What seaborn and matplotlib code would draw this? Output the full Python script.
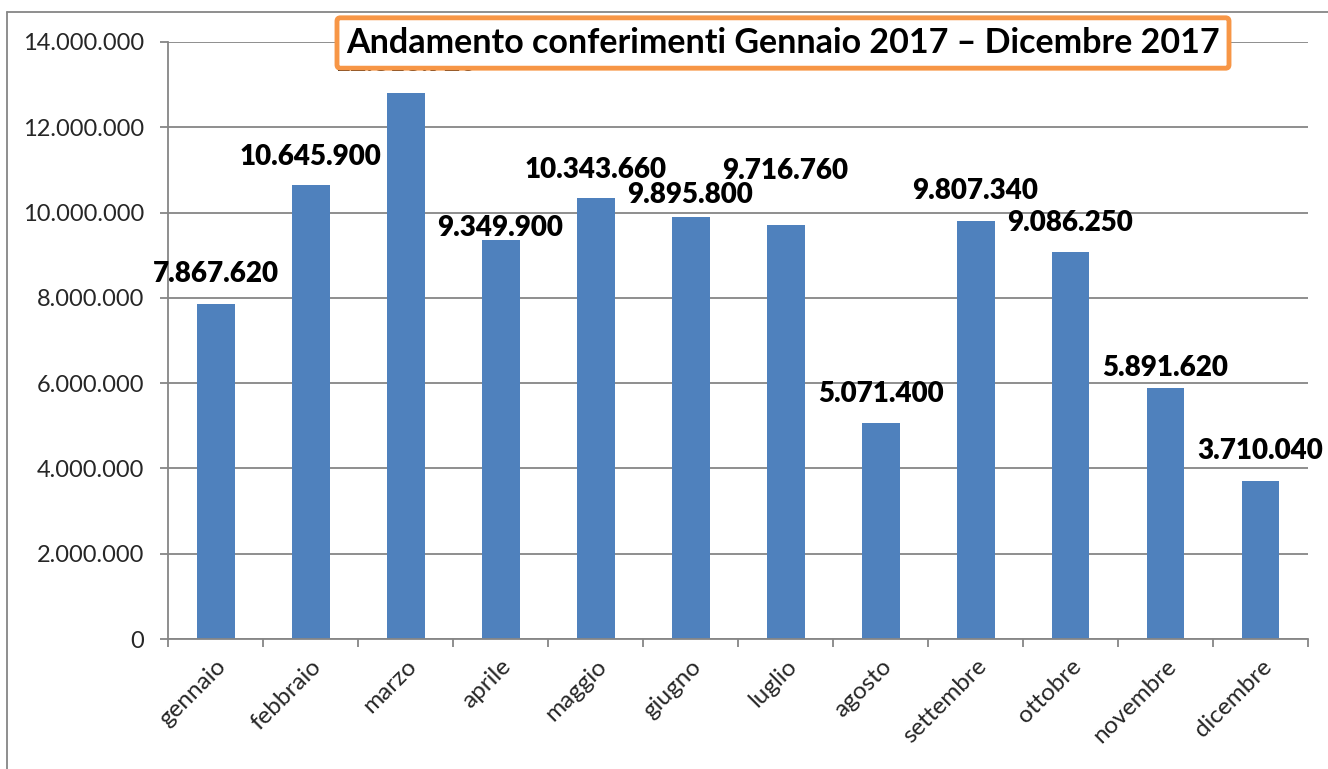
"""Andamento conferimenti 2017 - bar chart with seaborn."""

import matplotlib.pyplot as plt
import pandas as pd
import seaborn as sns
from matplotlib.lines import Line2D
from matplotlib.ticker import FixedLocator, FuncFormatter, MultipleLocator

sns.set_theme(style="white")
plt.rcParams["font.family"] = ["Lato", "DejaVu Sans"]

# Data
mesi = ["gennaio", "febbraio", "marzo", "aprile", "maggio", "giugno",
        "luglio", "agosto", "settembre", "ottobre", "novembre", "dicembre"]
conferimenti = [7867620, 10645900, 12813920, 9349900, 10343660, 9895800,
                9716760, 5071400, 9807340, 9086250, 5891620, 3710040]
# vertical distance (px) of each data label above its bar
label_offsets_px = [30, 28, 30, 12, 28, 22, 54, 29, 30, 29, 20, 30]

titolo = "Andamento conferimenti Gennaio 2017 \u2013 Dicembre 2017"
GRAY = "#868686"
BLUE = "#4F81BD"
ORANGE = "#F79646"


def fmt_it(v):
    return f"{int(round(v)):,}".replace(",", ".")


df = pd.DataFrame({"mese": mesi, "valore": conferimenti})

fig = plt.figure(figsize=(13.28, 7.69), dpi=100)
ax = fig.add_axes([168 / 1328, 1 - 639 / 769, (1308 - 168) / 1328, (639 - 42) / 769])

sns.barplot(data=df, x="mese", y="valore", color=BLUE, width=0.4,
            saturation=1, ax=ax, edgecolor="none")

ax.set_ylim(0, 14_000_000)
ax.set_xlim(-0.5, len(mesi) - 0.5)
ax.yaxis.set_major_locator(MultipleLocator(2_000_000))
ax.yaxis.set_major_formatter(FuncFormatter(lambda v, p: fmt_it(v)))
ax.grid(axis="y", color=GRAY, linewidth=1.3)
ax.set_axisbelow(True)

for s in ["top", "right"]:
    ax.spines[s].set_visible(False)
for s in ["left", "bottom"]:
    ax.spines[s].set_color(GRAY)
    ax.spines[s].set_linewidth(1.3)

ax.set_xlabel("")
ax.set_ylabel("")
ax.tick_params(axis="y", which="major", left=True, length=6, width=1.3,
               color=GRAY, labelsize=17, pad=11)
ax.tick_params(axis="x", which="major", length=0, labelsize=17.5, pad=12)
ax.xaxis.set_minor_locator(FixedLocator([i - 0.5 for i in range(len(mesi) + 1)]))
ax.tick_params(axis="x", which="minor", bottom=True, length=6, width=1.3, color=GRAY)
for lbl in ax.get_xticklabels():
    lbl.set_rotation(45)
    lbl.set_ha("right")
    lbl.set_rotation_mode("anchor")

# Data labels
for i, (v, off) in enumerate(zip(conferimenti, label_offsets_px)):
    ax.annotate(fmt_it(v), xy=(i, v), xytext=(0, off * 0.72),
                textcoords="offset points", ha="center", va="center",
                fontsize=20, fontweight="heavy", color="black")

# Chart frame (outer border)
fig.add_artist(Line2D([7 / 1328, 7 / 1328], [0, 1 - 12 / 769],
                      transform=fig.transFigure, color=GRAY, lw=1.3))
fig.add_artist(Line2D([7 / 1328, 1], [1 - 12 / 769, 1 - 12 / 769],
                      transform=fig.transFigure, color=GRAY, lw=1.3))

# Title box
fig.text(783 / 1328, 1 - 43 / 769, titolo, ha="center", va="center",
         fontsize=24.5, fontweight="bold", color="black",
         bbox=dict(boxstyle="round,pad=0.27,rounding_size=0.1", facecolor="white",
                   edgecolor=ORANGE, linewidth=3.5))

fig.savefig("out.png", dpi=100)
plt.close(fig)
